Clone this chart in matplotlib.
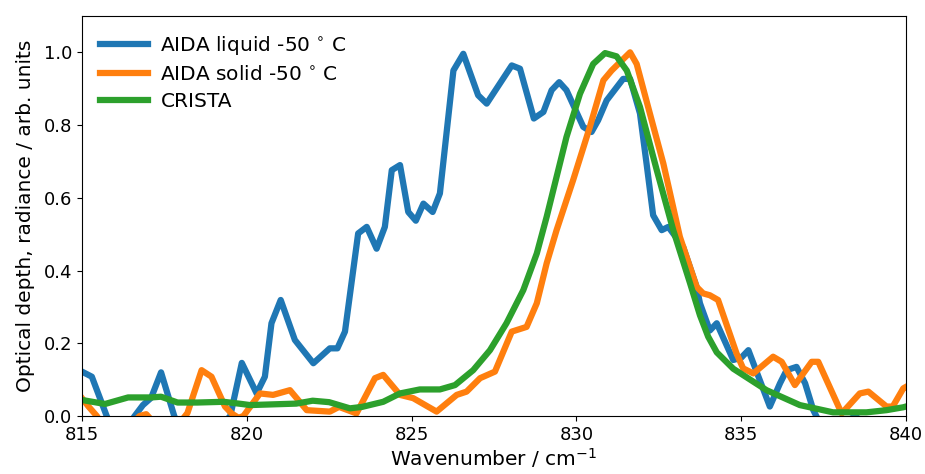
import matplotlib
matplotlib.use('Agg')
import matplotlib.pyplot as plt

#### DATA ####
liquid_x = [815.0, 815.3, 815.75, 816.0, 816.3, 816.6, 816.85, 817.1, 817.4, 817.8,
            818.1, 818.6, 819.1, 819.5, 819.85, 820.3, 820.55, 820.75, 821.03, 821.46,
            822.02, 822.52, 822.75, 822.98, 823.38, 823.64, 823.94, 824.19, 824.4, 824.65,
            824.9, 825.13, 825.36, 825.64, 825.86, 826.27, 826.57, 827.02, 827.28, 828.04,
            828.29, 828.71, 829.0, 829.25, 829.48, 829.7, 830.21, 830.46, 830.66, 830.92,
            831.42, 831.63, 831.93, 832.13, 832.33, 832.59, 832.79, 833.24, 833.65, 833.75,
            834.05, 834.26, 834.76, 835.0, 835.22, 835.87, 836.18, 836.38, 836.68, 836.94,
            837.19, 837.5, 838.0, 838.45, 838.6, 839.0, 840.0]
liquid_y = [0.122, 0.108, 0.0, -0.05, -0.04, 0.0, 0.03, 0.05, 0.12, 0.0,
            -0.06, -0.05, -0.04, 0.0, 0.146, 0.062, 0.108, 0.255, 0.319, 0.209,
            0.145, 0.186, 0.186, 0.232, 0.502, 0.52, 0.46, 0.52, 0.676, 0.69,
            0.561, 0.537, 0.584, 0.561, 0.612, 0.95, 0.996, 0.882, 0.859, 0.964,
            0.955, 0.818, 0.836, 0.896, 0.918, 0.896, 0.795, 0.781, 0.813, 0.868,
            0.927, 0.927, 0.832, 0.694, 0.552, 0.511, 0.52, 0.465, 0.355, 0.31,
            0.235, 0.255, 0.154, 0.16, 0.181, 0.026, 0.09, 0.126, 0.135, 0.09,
            0.016, -0.04, -0.03, 0.0, -0.01, -0.06, -0.05]

solid_x = [815.0, 815.2, 815.45, 815.8, 816.3, 816.75, 816.95, 817.2, 817.7, 818.2,
           818.63, 818.93, 819.34, 819.54, 819.75, 819.9, 820.4, 820.8, 821.31, 821.82,
           822.52, 822.8, 823.33, 823.89, 824.14, 824.65, 825.05, 825.76, 826.37, 826.67,
           827.08, 827.53, 828.04, 828.49, 828.8, 829.1, 829.4, 829.9, 830.41, 830.82,
           831.07, 831.63, 831.83, 832.23, 832.64, 833.14, 833.65, 833.85, 834.05, 834.3,
           834.86, 835.06, 835.37, 835.97, 836.23, 836.63, 837.14, 837.34, 838.05, 838.6,
           838.86, 839.41, 839.6, 839.92, 840.0]
solid_y = [0.049, 0.026, 0.0, -0.05, -0.04, 0.0, 0.005, -0.02, -0.05, 0.008,
           0.126, 0.108, 0.026, 0.007, -0.005, 0.0, 0.062, 0.058, 0.071, 0.016,
           0.012, 0.025, 0.007, 0.104, 0.113, 0.058, 0.049, 0.012, 0.058, 0.067,
           0.104, 0.122, 0.232, 0.245, 0.31, 0.42, 0.511, 0.648, 0.795, 0.923,
           0.95, 1.0, 0.968, 0.832, 0.694, 0.493, 0.355, 0.337, 0.332, 0.319,
           0.172, 0.131, 0.117, 0.163, 0.149, 0.085, 0.149, 0.149, 0.007, 0.062,
           0.067, 0.026, 0.026, 0.076, 0.08]

crista_x = [815.0, 815.7, 816.4, 817.1, 817.4, 817.9, 818.5, 819.3, 819.85, 820.1,
            820.8, 821.5, 822.0, 822.5, 823.13, 823.5, 824.14, 824.65, 825.25, 825.86,
            826.32, 826.87, 827.38, 827.88, 828.39, 828.8, 829.1, 829.3, 829.7, 830.11,
            830.51, 830.87, 831.22, 831.53, 831.93, 832.44, 832.94, 833.45, 833.75, 834.0,
            834.26, 834.76, 835.77, 836.78, 837.79, 838.8, 839.41, 839.92, 840.0]
crista_y = [0.044, 0.033, 0.051, 0.051, 0.053, 0.037, 0.037, 0.039, 0.033, 0.030,
            0.032, 0.034, 0.042, 0.038, 0.021, 0.025, 0.039, 0.062, 0.073, 0.073,
            0.085, 0.126, 0.181, 0.255, 0.346, 0.447, 0.548, 0.621, 0.767, 0.886,
            0.968, 0.998, 0.989, 0.95, 0.85, 0.676, 0.511, 0.365, 0.277, 0.218,
            0.175, 0.13, 0.071, 0.030, 0.01, 0.01, 0.016, 0.024, 0.026]

labels = ["AIDA liquid -50$\\,^\\circ\\,$C", "AIDA solid -50$\\,^\\circ\\,$C", "CRISTA"]

plt.rcParams['font.size'] = 13

fig = plt.figure(figsize=(9.25, 4.74), dpi=100)
ax = fig.add_axes([0.0886, 0.1224, 0.8908, 0.8439])

ax.plot(liquid_x, liquid_y, color="#1f77b4", lw=4.5, label=labels[0])
ax.plot(solid_x, solid_y, color="#ff7f0e", lw=4.5, label=labels[1])
ax.plot(crista_x, crista_y, color="#2ca02c", lw=4.5, label=labels[2])

ax.set_xlim(815, 840)
ax.set_ylim(0, 1.1)
ax.set_xticks([815, 820, 825, 830, 835, 840])
ax.set_yticks([0.0, 0.2, 0.4, 0.6, 0.8, 1.0])
ax.set_xlabel("Wavenumber / cm$^{-1}$", fontsize=14.5, labelpad=2)
ax.set_ylabel("Optical depth, radiance / arb. units", fontsize=14.5, labelpad=6)
ax.legend(loc="upper left", frameon=False, fontsize=14.5, handlelength=2.4,
          labelspacing=0.4, handletextpad=0.6)

fig.savefig("out.png")
